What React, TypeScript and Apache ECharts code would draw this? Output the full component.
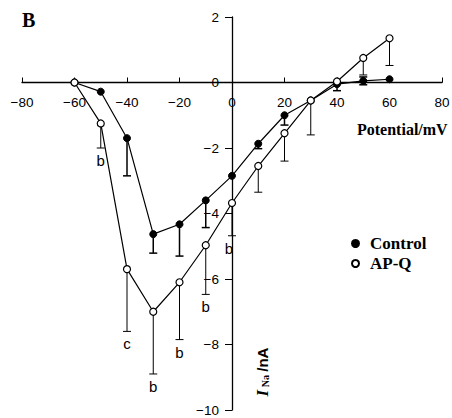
import React, { useEffect, useRef } from "react";
import * as echarts from "echarts";

const voltages = [-60, -50, -40, -30, -20, -10, 0, 10, 20, 30, 40, 50, 60];
const controlMean = [0, -0.28, -1.7, -4.63, -4.33, -3.6, -2.85, -1.87, -1.0, -0.55, -0.05, 0.05, 0.1];
const controlErrDown = [0, 0, 1.15, 0.58, 0.97, 0.83, 0, 0.15, 0.3, 0, 0.2, 0.12, 0];
const controlErrUp = [0, 0, 0, 0, 0, 0, 0, 0, 0, 0, 0, 0.12, 0];
const apqMean = [0, -1.25, -5.7, -7.0, -6.1, -4.97, -3.68, -2.55, -1.55, -0.55, 0.03, 0.75, 1.35];
const apqErrDown = [0, 0.75, 1.9, 1.9, 1.75, 1.5, 1.0, 0.8, 0.85, 1.05, 0, 0.52, 0.83];
const apqSig = ["", "b", "c", "b", "b", "b", "b", "", "", "", "", "", ""];

const xTicks = { min: -80, max: 80, interval: 20 };
const yTicks = { min: -10, max: 2, interval: 2 };

const fmt = (v: number) => (v < 0 ? "\u2212" + Math.abs(v) : String(v));

const W = 452;
const H = 418;
const GRID = { left: 22, right: 10, top: 17, bottom: 8 };

function errorSeries(
  name: string,
  means: number[],
  down: number[],
  up: number[],
  sig: string[],
  width: number
) {
  const data = voltages.map((v, i) => [v, means[i], means[i] - down[i], means[i] + up[i]]);
  return {
    type: "custom",
    name,
    z: 1,
    silent: true,
    data,
    encode: { x: 0, y: 1 },
    renderItem: (params: any, api: any) => {
      const x = api.value(0);
      const m = api.value(1);
      const lo = api.value(2);
      const hi = api.value(3);
      const pm = api.coord([x, m]);
      const pl = api.coord([x, lo]);
      const ph = api.coord([x, hi]);
      const children: any[] = [];
      const ls = { stroke: "#000", lineWidth: width };
      const cap = 4;
      if (lo < m) {
        children.push({ type: "line", shape: { x1: pm[0], y1: pm[1], x2: pl[0], y2: pl[1] }, style: ls });
        children.push({ type: "line", shape: { x1: pl[0] - cap, y1: pl[1], x2: pl[0] + cap, y2: pl[1] }, style: ls });
      }
      if (hi > m) {
        children.push({ type: "line", shape: { x1: pm[0], y1: pm[1], x2: ph[0], y2: ph[1] }, style: ls });
        children.push({ type: "line", shape: { x1: ph[0] - cap, y1: ph[1], x2: ph[0] + cap, y2: ph[1] }, style: ls });
      }
      const s = sig[params.dataIndex];
      if (s) {
        children.push({
          type: "text",
          x: pl[0] - (x === 0 ? 3 : 0),
          y: pl[1] + 5,
          style: {
            text: s,
            align: "center",
            verticalAlign: "top",
            fill: "#000",
            font: "15px 'Liberation Sans', Arial, sans-serif",
          },
        });
      }
      return { type: "group", children };
    },
  };
}

export default function App() {
  const ref = useRef<HTMLDivElement>(null);
  useEffect(() => {
    document.body.style.margin = "0";
    if (!ref.current) return;
    const chart = echarts.init(ref.current, undefined, { renderer: "svg" });
    const labelFont = {
      fontFamily: "'Liberation Sans', Arial, sans-serif",
      fontSize: 13.5,
      color: "#000",
    };
    // shift axes so they cross at the data origin
    const gw = W - GRID.left - GRID.right;
    const gh = H - GRID.top - GRID.bottom;
    const yOffset = -gw * ((0 - xTicks.min) / (xTicks.max - xTicks.min));
    const xOffset = -gh * ((0 - yTicks.min) / (yTicks.max - yTicks.min));
    chart.setOption({
      animation: false,
      backgroundColor: "#fff",
      grid: { ...GRID, containLabel: false, outerBoundsMode: "none" },
      xAxis: {
        type: "value",
        ...xTicks,
        position: "bottom",
        offset: xOffset,
        axisLine: { onZero: false, lineStyle: { color: "#000", width: 1.3 } },
        axisTick: { inside: true, length: 5, lineStyle: { color: "#000" } },
        axisLabel: { ...labelFont, margin: 13, formatter: fmt },
        splitLine: { show: false },
      },
      yAxis: {
        type: "value",
        ...yTicks,
        position: "left",
        offset: yOffset,
        axisLine: { onZero: false, lineStyle: { color: "#000", width: 1.3 } },
        axisTick: { inside: false, length: 7, lineStyle: { color: "#000" } },
        axisLabel: { ...labelFont, margin: 13, formatter: fmt },
        splitLine: { show: false },
      },
      legend: {
        orient: "vertical",
        left: 351,
        top: 235,
        padding: 0,
        itemGap: 3,
        itemWidth: 7,
        itemHeight: 7,
        icon: "circle",
        data: ["Control", "AP-Q"],
        textStyle: {
          fontFamily: "'Liberation Serif', 'Times New Roman', serif",
          fontWeight: "bold",
          fontSize: 17,
          color: "#000",
          padding: [0, 0, 0, 6],
        },
      },
      graphic: [
        {
          type: "text",
          left: 22,
          top: 10,
          style: {
            text: "B",
            font: "bold 20px 'Liberation Serif', 'Times New Roman', serif",
            fill: "#000",
          },
        },
        {
          type: "text",
          left: 357,
          top: 121,
          style: {
            text: "Potential/mV",
            font: "bold 16px 'Liberation Serif', 'Times New Roman', serif",
            fill: "#000",
          },
        },
        {
          type: "text",
          x: 262,
          y: 372,
          rotation: Math.PI / 2,
          style: {
            text: "{i|I}{s| Na} {n|/nA}",
            align: "center",
            verticalAlign: "middle",
            fill: "#000",
            rich: {
              i: { font: "italic bold 17px 'Liberation Serif', serif", fill: "#000" },
              s: { font: "bold 10px 'Liberation Serif', serif", fill: "#000", padding: [6, 0, 0, 0] },
              n: { font: "bold 15px 'Liberation Sans', Arial, sans-serif", fill: "#000" },
            },
          },
        },
      ],
      series: [
        errorSeries("ctrlErr", controlMean, controlErrDown, controlErrUp, [], 1.5),
        errorSeries("apqErr", apqMean, apqErrDown, voltages.map(() => 0), apqSig, 1),
        {
          type: "line",
          name: "Control",
          z: 3,
          data: voltages.map((v, i) => [v, controlMean[i]]),
          symbol: "circle",
          symbolSize: 7,
          lineStyle: { color: "#000", width: 1.2 },
          itemStyle: { color: "#000", borderColor: "#000", borderWidth: 1 },
        },
        {
          type: "line",
          name: "AP-Q",
          z: 3,
          data: voltages.map((v, i) => [v, apqMean[i]]),
          symbol: "circle",
          symbolSize: 7,
          lineStyle: { color: "#000", width: 1.2 },
          itemStyle: { color: "#fff", borderColor: "#000", borderWidth: 1.2 },
        },
      ],
    });
    return () => chart.dispose();
  }, []);
  return <div ref={ref} style={{ width: W, height: H }} />;
}
